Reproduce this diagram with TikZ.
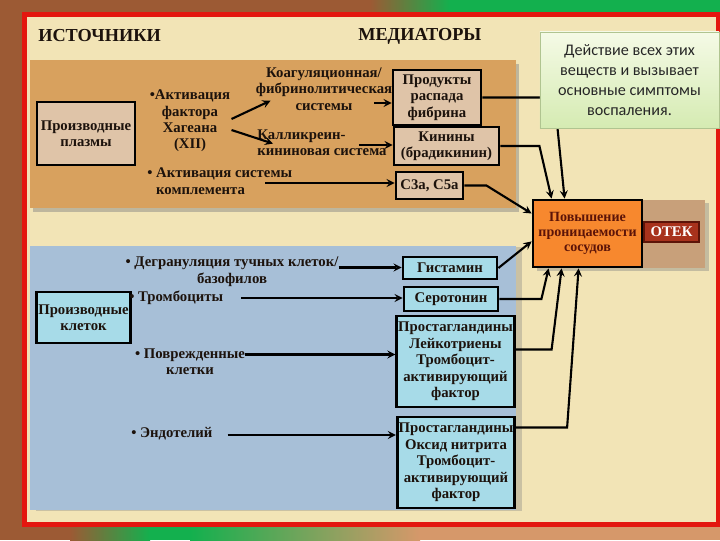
\documentclass[tikz,border=0pt]{standalone}
\usepackage{fontspec}
\setmainfont{Liberation Serif}
\newfontfamily\calloutfont{Carlito}
\usetikzlibrary{calc,shadows}
\definecolor{brownbg}{HTML}{9C5A34}
\definecolor{greenbar}{HTML}{13B04E}
\definecolor{salmon}{HTML}{D6986A}
\definecolor{redframe}{HTML}{E3170F}
\definecolor{cream}{HTML}{F2E4B6}
\definecolor{tanband}{HTML}{D8A15E}
\definecolor{blueband}{HTML}{A7BFD7}
\definecolor{plasmabox}{HTML}{DFC4A8}
\definecolor{cellbox}{HTML}{A7DBE8}
\definecolor{orangebox}{HTML}{F7882E}
\definecolor{otekbg}{HTML}{C8A07A}
\definecolor{otekbox}{HTML}{A8321C}
\definecolor{calltop}{HTML}{F5FAE6}
\definecolor{callbot}{HTML}{D5EBB2}
\definecolor{callline}{HTML}{B0C490}
\definecolor{ink}{HTML}{1C120C}
\definecolor{darkred}{HTML}{5C1408}
\begin{document}
\begin{tikzpicture}[x=0.025cm, y=-0.025cm, >=stealth,
    every node/.style={font=\bfseries\fontsize{10.5}{11.7}\selectfont, text=ink},
    plasma node/.style={draw, line width=2pt, fill=plasmabox, align=center, inner sep=1pt},
    cell node/.style={draw, line width=2pt, fill=cellbox, align=center, inner sep=1pt},
    src text/.style={align=center, inner sep=0pt},
    title/.style={anchor=west, inner sep=0pt, font=\bfseries\fontsize{13}{15}\selectfont},
    link/.style={line width=1.5pt, ->}]
    \useasboundingbox (0,0) rectangle (720,540);
    \fill[brownbg] (0,0) rectangle (720,540);
    \shade[left color=brownbg, right color=greenbar] (370,0) rectangle (450,14);
    \fill[greenbar] (450,0) rectangle (720,14);
    \shade[left color=brownbg, right color=greenbar] (70,525) rectangle (150,540);
    \fill[greenbar] (150,525) rectangle (190,540);
    \shade[left color=greenbar, right color=salmon] (190,525) rectangle (420,540);
    \fill[salmon] (420,525) rectangle (720,540);
    \fill[redframe] (22,12) rectangle (720,527);
    \fill[cream] (27,17) rectangle (716,522);

    \fill[tanband, drop shadow={shadow xshift=2pt, shadow yshift=-3pt, opacity=.45}] (30,60) rectangle (516,208);
    \fill[blueband, drop shadow={shadow xshift=4pt, shadow yshift=-1pt, opacity=.35}] (30,246) rectangle (516,510);
    \fill[otekbg, drop shadow={shadow xshift=3pt, shadow yshift=-2pt, opacity=.4}] (533,200) rectangle (705,268);

    \node[title] (src title) at (38,36) {ИСТОЧНИКИ};
    \node[title] (med title) at (358,36) {МЕДИАТОРЫ};

    \node[plasma node, minimum width=2.45cm, minimum height=1.575cm] (plasma) at (86,133.5) {Производные\\плазмы};
    \node[src text] (hag) at (190,121) {•Активация\\фактора\\Хагеана\\(XII)};
    \node[src text] (koag) at (324,89) {Коагуляционная/\\фибринолитическая\\системы};
    \node[src text, align=left, anchor=west] (kalli) at (257,143) {Калликреин-\\кининовая система};
    \node[src text, align=left, anchor=west] (compl) at (147,181) {• Активация системы\\\hphantom{• }комплемента};

    \node[plasma node, minimum width=2.2cm, minimum height=1.375cm] (prod) at (437,97.5) {Продукты\\распада\\фибрина};
    \node[plasma node, minimum width=2.625cm, minimum height=0.95cm] (kinin) at (446.5,146) {Кинины\\(брадикинин)};
    \node[plasma node, minimum width=1.675cm, minimum height=0.675cm] (c3a) at (429.5,185.5) {C3a, C5a};

    \node[draw, line width=2pt, fill=orangebox, align=center, inner sep=1pt, text=darkred,
        font=\bfseries\fontsize{10}{10.5}\selectfont, minimum width=2.725cm, minimum height=1.675cm] (povysh) at (587.5,233.5) {Повышение\\проницаемости\\сосудов};
    \node[draw=darkred, line width=1.2pt, fill=otekbox, text=white, inner sep=1pt,
        minimum width=1.375cm, minimum height=0.5cm] (otek) at (671.5,232) {ОТЕК};

    \node[cell node, minimum width=2.275cm, minimum height=1.275cm] (cells) at (83.5,317.5) {Производные\\клеток};
    \node[src text] (degran) at (232,271.5) {• Дегрануляция тучных клеток/\\базофилов};
    \node[src text, anchor=west] (tromb) at (129,298) {• Тромбоциты};
    \node[src text] (povr) at (190,361.5) {• Поврежденные\\клетки};
    \node[src text, anchor=west] (endo) at (131,434) {• Эндотелий};

    \node[cell node, minimum width=2.35cm, minimum height=0.55cm] (gist) at (450,268) {Гистамин};
    \node[cell node, minimum width=2.35cm, minimum height=0.6cm] (sero) at (451,299) {Серотонин};
    \node[cell node, minimum width=2.875cm, minimum height=2.275cm] (prost1) at (455.5,361.5) {Простагландины\\Лейкотриены\\Тромбоцит-\\активирующий\\фактор};
    \node[cell node, minimum width=2.9cm, minimum height=2.275cm] (prost2) at (456,462.5) {Простагландины\\Оксид нитрита\\Тромбоцит-\\активирующий\\фактор};

    \draw[link] ($(hag.east)+(1,-2)$) -- ($(koag.south west)+(15,-10)$);
    \draw[link] ($(hag.east)+(1,9)$) -- ($(kalli.north west)+(16,14)$);
    \draw[link] ($(koag.east)+(-18,14)$) coordinate (k1) -- (k1 -| prod.west);
    \draw[link] ($(kalli.east)+(-28,2)$) coordinate (k2) -- (k2 -| kinin.west);
    \draw[link] ($(compl.east)+(-27,2)$) coordinate (k3) -- (k3 -| c3a.west);
    \draw[link] (prod.east) -- ++(72,0) -- ($(povysh.north west)+(33,0)$);
    \draw[link] (kinin.east) -- ++(39,0) -- ($(povysh.north west)+(20,0)$);
    \draw[link] (c3a.east) -- ++(22,0) -- ($(povysh.west)+(0,-20)$);

    \draw[link] ($(degran.east)+(0,-4)$) coordinate (c1) -- (c1 -| gist.west);
    \draw[link] ($(tromb.east)+(18,0)$) coordinate (c2) -- (c2 -| sero.west);
    \draw[link] ($(povr.east)+(0,-7)$) coordinate (c3) -- (c3 -| prost1.west);
    \draw[link] ($(endo.east)+(15,1)$) coordinate (c4) -- (c4 -| prost2.west);
    \draw[link] (gist.east) -- ($(povysh.south west)+(0,-27)$);
    \draw[link] (sero.east) -- ++(42,0) -- ($(povysh.south west)+(17,0)$);
    \draw[link] ($(prost1.east)+(0,-12)$) -- ++(36,0) -- ($(povysh.south west)+(30,0)$);
    \draw[link] ($(prost2.east)+(0,-35)$) -- ++(51,0) -- ($(povysh.south west)+(47,0)$);

    \node[draw=callline, top color=calltop, bottom color=callbot, align=center, text=black!85,
        font=\calloutfont\fontsize{11.5}{14.2}\selectfont, minimum width=4.475cm, minimum height=2.4cm] (note) at (629.5,80)
        {Действие всех этих\\веществ и вызывает\\основные симптомы\\воспаления.};
\end{tikzpicture}
\end{document}
